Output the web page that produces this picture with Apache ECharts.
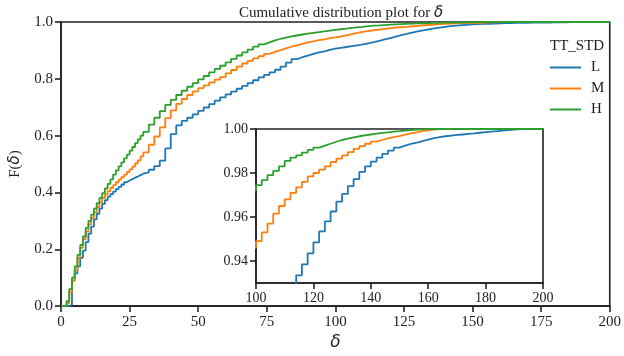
<!DOCTYPE html>
<html>
<head>
<meta charset="utf-8">
<script src="https://cdn.jsdelivr.net/npm/echarts@6/dist/echarts.min.js"></script>
<style>
  html, body { margin: 0; padding: 0; background: #fff; }
  #chart { width: 624px; height: 356px; }
</style>
</head>
<body>
<div id="chart"></div>
<script>
// delta sample positions (step ECDF)
const deltas = [
  0, 1, 2, 3, 4, 5, 6, 7, 8, 9, 10, 11, 12, 13, 14, 15, 16, 17, 18, 19, 20,
  21, 22, 23, 24, 25, 26, 27, 28, 29, 30,
  32, 34, 36, 38, 40, 42, 44, 46, 48, 50, 52, 54, 56, 58, 60, 62, 64, 66, 68, 70,
  72, 74, 76, 78, 80, 82, 84, 86, 88, 90, 92, 94, 96, 98, 100,
  102, 104, 106, 108, 110, 112, 114, 116, 118, 120, 122, 124, 126, 128, 130,
  132, 134, 136, 138, 140, 142, 144, 146, 148, 150, 152, 154, 156, 158, 160,
  162, 164, 166, 168, 170, 172, 174, 176, 178, 180, 182, 184, 186, 188, 190,
  192, 194, 196, 198, 200
];

const cdfL = [
  0, 0, 0, 0.005, 0.09, 0.115, 0.14, 0.17, 0.195, 0.225, 0.255, 0.28, 0.305, 0.325, 0.343, 0.36,
  0.373, 0.385, 0.394, 0.403, 0.412, 0.42, 0.428, 0.436, 0.442, 0.447, 0.452, 0.456, 0.461, 0.466, 0.471,
  0.48, 0.493, 0.512, 0.555, 0.605, 0.636, 0.652, 0.663, 0.675, 0.687, 0.699, 0.711, 0.723, 0.735, 0.745,
  0.755, 0.765, 0.775, 0.785, 0.795, 0.805, 0.814, 0.823, 0.832, 0.843, 0.857, 0.869, 0.876, 0.882, 0.888,
  0.893, 0.897, 0.902, 0.906, 0.909,
  0.912, 0.915, 0.918, 0.921, 0.925, 0.929, 0.9335, 0.9385, 0.9435, 0.9485,
  0.9535, 0.958, 0.9625, 0.967, 0.9705, 0.974, 0.9772, 0.9805, 0.983, 0.9852,
  0.987, 0.9887, 0.9902, 0.9915, 0.9924, 0.9932, 0.9938, 0.9945, 0.9952, 0.9958,
  0.9963, 0.9967, 0.997, 0.9973, 0.9975, 0.9978, 0.998, 0.9983, 0.9986, 0.9988,
  0.999, 0.9993, 0.9995, 0.9997, 0.9999, 1, 1, 1, 1, 1
];

const cdfM = [
  0, 0, 0.01, 0.05, 0.09, 0.125, 0.17, 0.205, 0.235, 0.262, 0.288, 0.31, 0.33, 0.348, 0.365, 0.38,
  0.393, 0.405, 0.416, 0.426, 0.436, 0.445, 0.454, 0.463, 0.472, 0.481, 0.491, 0.502, 0.513, 0.527, 0.541,
  0.568, 0.597, 0.629, 0.662, 0.689, 0.712, 0.729, 0.743, 0.756, 0.767, 0.777, 0.787, 0.797, 0.806, 0.819,
  0.831, 0.843, 0.854, 0.863, 0.872, 0.88, 0.888, 0.895, 0.901, 0.907, 0.913, 0.918, 0.923, 0.928, 0.932,
  0.936, 0.939, 0.943, 0.946, 0.949,
  0.953, 0.957, 0.9615, 0.965, 0.968, 0.971, 0.9735, 0.976, 0.9785, 0.98,
  0.9815, 0.983, 0.985, 0.9865, 0.988, 0.9895, 0.991, 0.9922, 0.9933, 0.9943,
  0.995, 0.9957, 0.9963, 0.9968, 0.9974, 0.998, 0.9985, 0.999, 0.9994, 0.9997,
  1, 1, 1, 1, 1, 1, 1, 1, 1, 1,
  1, 1, 1, 1, 1, 1, 1, 1, 1, 1
];

const cdfH = [
  0, 0, 0.017, 0.06, 0.1, 0.14, 0.18, 0.215, 0.245, 0.275, 0.3, 0.322, 0.343, 0.362, 0.381, 0.398,
  0.414, 0.43, 0.446, 0.463, 0.478, 0.492, 0.506, 0.52, 0.533, 0.547, 0.56, 0.574, 0.587, 0.6, 0.613,
  0.639, 0.663, 0.686, 0.708, 0.726, 0.743, 0.758, 0.772, 0.785, 0.798, 0.81, 0.823, 0.835, 0.846, 0.858,
  0.87, 0.882, 0.893, 0.903, 0.913, 0.921, 0.928, 0.935, 0.941, 0.945, 0.949, 0.9525, 0.956, 0.959, 0.962,
  0.9647, 0.967, 0.9695, 0.972, 0.9745,
  0.9768, 0.979, 0.981, 0.983, 0.9855, 0.987, 0.988, 0.9893, 0.9905, 0.9915,
  0.9924, 0.9933, 0.9942, 0.995, 0.9956, 0.9962, 0.9967, 0.9971, 0.9975, 0.9979,
  0.9982, 0.9985, 0.9988, 0.999, 0.9993, 0.9995, 0.9997, 0.9998, 0.9999, 1,
  1, 1, 1, 1, 1, 1, 1, 1, 1, 1,
  1, 1, 1, 1, 1, 1, 1, 1, 1, 1
];

const groups = ["L", "M", "H"];
const colors = ["#1f77b4", "#ff7f0e", "#2ca02c"];
const insetTicks = [0.94, 0.96, 0.98, 1.0];

const serif = "Liberation Serif";
const ink = "#222";

const axisStyle = (fontSize) => ({
  axisLine: { show: true, onZero: false, lineStyle: { color: ink, width: 1.6 } },
  axisTick: { show: true, length: 6, lineStyle: { color: ink, width: 1.6 } },
  axisLabel: { color: ink, fontFamily: serif, fontSize: fontSize, margin: 8 },
  splitLine: { show: false }
});

const toSeries = (grid) => (values, i) => ({
  name: groups[i],
  type: "line",
  step: "end",
  xAxisIndex: grid,
  yAxisIndex: grid,
  symbol: "none",
  clip: true,
  animation: false,
  lineStyle: { color: colors[i], width: 1.8 },
  itemStyle: { color: colors[i] },
  data: deltas.map((d, k) => [d, values[k]])
});

const chart = echarts.init(document.getElementById("chart"));
const cdfs = [cdfL, cdfM, cdfH];

chart.setOption({
  animation: false,
  title: [{
    text: "Cumulative distribution plot for {d|δ}",
    left: 336,
    textAlign: "center",
    top: 1,
    textStyle: {
      fontFamily: serif, fontSize: 15, fontWeight: "normal", color: ink,
      rich: { d: { fontFamily: "DejaVu Sans", fontStyle: "italic", fontSize: 15, color: ink } }
    }
  }, {
    text: "TT_STD",
    left: 545,
    top: 34,
    textStyle: { fontFamily: serif, fontSize: 15, fontWeight: "normal", color: ink }
  }],
  legend: {
    data: groups,
    orient: "vertical",
    left: 545,
    top: 55,
    icon: "rect",
    itemWidth: 31,
    itemHeight: 2,
    itemGap: 6,
    textStyle: { fontFamily: serif, fontSize: 15, color: ink, padding: [0, 0, 0, 5] }
  },
  grid: [
    { left: 58, top: 22, width: 556, height: 290, show: true, borderColor: ink, borderWidth: 1.6, backgroundColor: "transparent" },
    { left: 256, top: 129, width: 287, height: 154, show: true, borderColor: ink, borderWidth: 1.6, backgroundColor: "#fff" }
  ],
  xAxis: [
    Object.assign({
      type: "value", gridIndex: 0, min: 0, max: 200, interval: 25,
      name: "δ", nameLocation: "middle", nameGap: 27,
      nameTextStyle: { fontFamily: "DejaVu Sans", fontStyle: "italic", fontSize: 17, color: ink }
    }, axisStyle(15)),
    Object.assign({
      type: "value", gridIndex: 1, min: 100, max: 200, interval: 20
    }, axisStyle(14))
  ],
  yAxis: [
    _merge({
      type: "value", gridIndex: 0, min: 0, max: 1, interval: 0.2,
      name: "F({d|δ})", nameLocation: "middle", nameGap: 38,
      nameTextStyle: {
        fontFamily: serif, fontSize: 15, color: ink,
        rich: { d: { fontFamily: "DejaVu Sans", fontStyle: "italic", fontSize: 15, color: ink } }
      }
    }, axisStyle(15), { axisLabel: { formatter: (v) => v.toFixed(1) } }),
    _merge({
      type: "value", gridIndex: 1, min: 0.93, max: 1.0
    }, axisStyle(14), {
      axisTick: { customValues: insetTicks },
      axisLabel: { customValues: insetTicks, formatter: (v) => v.toFixed(2) }
    })
  ],
  series: cdfs.map(toSeries(0)).concat(cdfs.map(toSeries(1)))
});

function _merge(base, style, extra) {
  const out = Object.assign({}, base, style);
  if (extra) {
    Object.keys(extra).forEach((k) => {
      out[k] = Object.assign({}, out[k] || {}, extra[k]);
    });
  }
  return out;
}
</script>
</body>
</html>
